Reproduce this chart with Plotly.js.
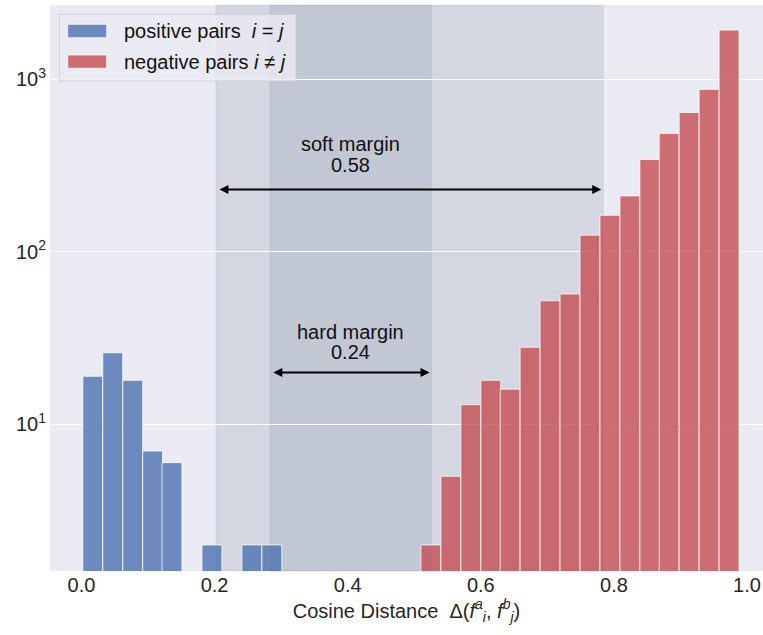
<!DOCTYPE html>
<html>
<head>
<meta charset="utf-8">
<script src="https://cdn.plot.ly/plotly-3.0.1.min.js"></script>
<style>html,body{margin:0;padding:0;background:#fff;}#chart{width:763px;height:635px;}</style>
</head>
<body>
<div id="chart"></div>
<script>
// ---- data (histogram bin centres and counts) ----
const posBins   = [0.017, 0.047, 0.077, 0.107, 0.136, 0.196, 0.256, 0.286];
const posCounts = [19, 26, 18, 7, 6, 2, 2, 2];
const negBins   = [0.525, 0.555, 0.585, 0.615, 0.644, 0.674, 0.704, 0.734,
                   0.764, 0.794, 0.824, 0.854, 0.883, 0.913, 0.943, 0.973];
const negCounts = [2, 5, 13, 18, 16, 28, 52, 57, 125, 163, 211, 343, 485, 643, 875, 1930];
const binWidth = 0.0299;
const softMargin = [0.202, 0.784];
const hardMargin = [0.283, 0.526];
const softLabel = ["soft margin", "0.58"];
const hardLabel = ["hard margin", "0.24"];
const softArrowY = 230;
const hardArrowY = 20;
const legendLabels = ["positive pairs\u00a0 <i>i</i> = <i>j</i>", "negative pairs <i>i</i> \u2260 <i>j</i>"];
const yTickVals = [10, 100, 1000];
const yTickText = ["10<sup>1</sup>", "10<sup>2</sup>", "10<sup>3</sup>"];
const xTickVals = [0, 0.2, 0.4, 0.6, 0.8, 1.0];
const xTickText = ["0.0", "0.2", "0.4", "0.6", "0.8", "1.0"];

const blue = "rgba(76,114,176,0.8)";
const red = "rgba(196,78,82,0.8)";
const FONT = "Liberation Sans, Arial, sans-serif";
const FS = 20;

const traces = [
  {type: "bar", x: posBins, y: posCounts, width: binWidth, name: "positive pairs",
   marker: {color: blue, line: {color: "rgba(255,255,255,0.75)", width: 1}}, showlegend: false},
  {type: "bar", x: negBins, y: negCounts, width: binWidth, name: "negative pairs",
   marker: {color: red, line: {color: "rgba(255,255,255,0.75)", width: 1}}, showlegend: false}
];

const shadeColor = "rgba(100,116,145,0.16)";
const shapes = [
  {type: "rect", xref: "x", yref: "paper", x0: softMargin[0], x1: softMargin[1], y0: 0, y1: 1,
   fillcolor: shadeColor, line: {width: 1, color: "rgba(100,116,145,0.12)"}, layer: "between"},
  {type: "rect", xref: "x", yref: "paper", x0: hardMargin[0], x1: hardMargin[1], y0: 0, y1: 1,
   fillcolor: shadeColor, line: {width: 1, color: "rgba(100,116,145,0.12)"}, layer: "between"},
  // legend frame
  {type: "rect", xref: "paper", yref: "paper", x0: 0.013, x1: 0.345, y0: 0.8656, y1: 0.9836,
   fillcolor: "rgba(234,234,242,0.8)", line: {width: 1, color: "rgba(204,204,204,0.8)"}, layer: "above"},
  {type: "rect", xref: "paper", yref: "paper", x0: 0.0248, x1: 0.0795, y0: 0.9422, y1: 0.9659,
   fillcolor: blue, line: {width: 1, color: "rgba(255,255,255,0.75)"}, layer: "above"},
  {type: "rect", xref: "paper", yref: "paper", x0: 0.0248, x1: 0.0795, y0: 0.8882, y1: 0.9117,
   fillcolor: red, line: {width: 1, color: "rgba(255,255,255,0.75)"}, layer: "above"}
];

const textFont = {family: FONT, size: FS, color: "#111"};
const midX = 0.404;
const annotations = [
  {xref: "x", yref: "y", x: softMargin[1] - 0.003, y: Math.log10(softArrowY),
   axref: "x", ayref: "y", ax: softMargin[0] + 0.003, ay: Math.log10(softArrowY),
   text: "", showarrow: true, arrowhead: 2, arrowside: "end+start", arrowsize: 0.9, arrowwidth: 2,
   arrowcolor: "#000", standoff: 0, startstandoff: 0},
  {xref: "x", yref: "y", x: hardMargin[1] - 0.003, y: Math.log10(hardArrowY),
   axref: "x", ayref: "y", ax: hardMargin[0] + 0.003, ay: Math.log10(hardArrowY),
   text: "", showarrow: true, arrowhead: 2, arrowside: "end+start", arrowsize: 0.9, arrowwidth: 2,
   arrowcolor: "#000", standoff: 0, startstandoff: 0},
  {xref: "x", yref: "paper", x: midX, y: 0.755, text: softLabel[0], showarrow: false, font: textFont, xanchor: "center", yanchor: "middle"},
  {xref: "x", yref: "paper", x: midX, y: 0.718, text: softLabel[1], showarrow: false, font: textFont, xanchor: "center", yanchor: "middle"},
  {xref: "x", yref: "paper", x: midX, y: 0.423, text: hardLabel[0], showarrow: false, font: textFont, xanchor: "center", yanchor: "middle"},
  {xref: "x", yref: "paper", x: midX, y: 0.387, text: hardLabel[1], showarrow: false, font: textFont, xanchor: "center", yanchor: "middle"},
  {xref: "paper", yref: "paper", x: 0.1010, y: 0.9541, text: legendLabels[0], showarrow: false, font: textFont, xanchor: "left", yanchor: "middle"},
  {xref: "paper", yref: "paper", x: 0.1010, y: 0.9000, text: legendLabels[1], showarrow: false, font: textFont, xanchor: "left", yanchor: "middle"}
];

const layout = {
  width: 763, height: 635,
  margin: {l: 50, r: 0, t: 5, b: 64},
  paper_bgcolor: "#ffffff",
  plot_bgcolor: "#EAEAF2",
  font: {family: FONT, size: FS, color: "#262626"},
  barmode: "overlay",
  bargap: 0,
  showlegend: false,
  xaxis: {
    range: [-0.0473, 1.024], showgrid: false, zeroline: false, showline: false,
    ticks: "", tickvals: xTickVals, ticktext: xTickText,
    tickfont: {family: FONT, size: FS, color: "#262626"},
    title: {text: "Cosine Distance\u00a0 \u0394(<i>f</i><sup><i>a</i></sup><sub><i>i</i></sub>, <i>f</i><sup><i>b</i></sup><sub><i>j</i></sub>)",
            font: {family: FONT, size: FS, color: "#262626"}, standoff: 8}
  },
  yaxis: {
    type: "log", range: [0.150, 3.431], showgrid: true, gridcolor: "#ffffff", gridwidth: 1,
    zeroline: false, showline: false, ticks: "", ticklabelstandoff: 3,
    tickvals: yTickVals, ticktext: yTickText,
    tickfont: {family: FONT, size: FS, color: "#262626"}
  },
  shapes: shapes,
  annotations: annotations
};

Plotly.newPlot("chart", traces, layout, {displayModeBar: false, staticPlot: true});
</script>
</body>
</html>
